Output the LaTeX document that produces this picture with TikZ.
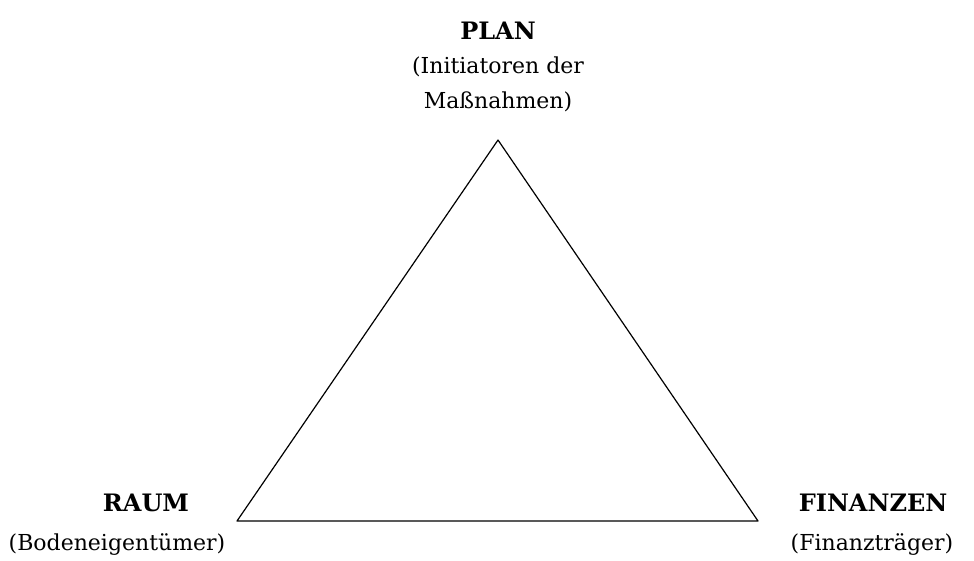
\documentclass[tikz,border=0pt]{standalone}
\usepackage{fontspec}
\setmainfont{DejaVu Serif}
\usetikzlibrary{positioning}
\tikzset{
  titel/.style={font=\fontsize{24}{28}\selectfont\bfseries, inner sep=0pt},
  akteur/.style={font=\fontsize{22}{35}\selectfont, inner sep=0pt, align=center}
}
\begin{document}
\begin{tikzpicture}[x=1pt,y=-1pt, line join=round]
        \useasboundingbox (0,0) rectangle (974,560);
        \coordinate (oben) at (498,140);
        \coordinate (links) at (237,521);
        \coordinate (rechts) at (758,521);
        \draw[line width=1.2pt] (oben) -- (links) -- (rechts) -- cycle;
        % Beschriftungen
        \node[titel] (plan) at (498,31) {PLAN};
        \node[akteur] (plansub) at (498,84) {(Initiatoren der\\Maßnahmen)};
        \node[titel] (raum) at (146,503) {RAUM};
        \node[akteur] (raumsub) at (117,545) {(Bodeneigentümer)};
        \node[titel] (finanzen) at (873,503) {FINANZEN};
        \node[akteur] (finanzensub) at (872,545) {(Finanzträger)};
    \end{tikzpicture}
\end{document}
